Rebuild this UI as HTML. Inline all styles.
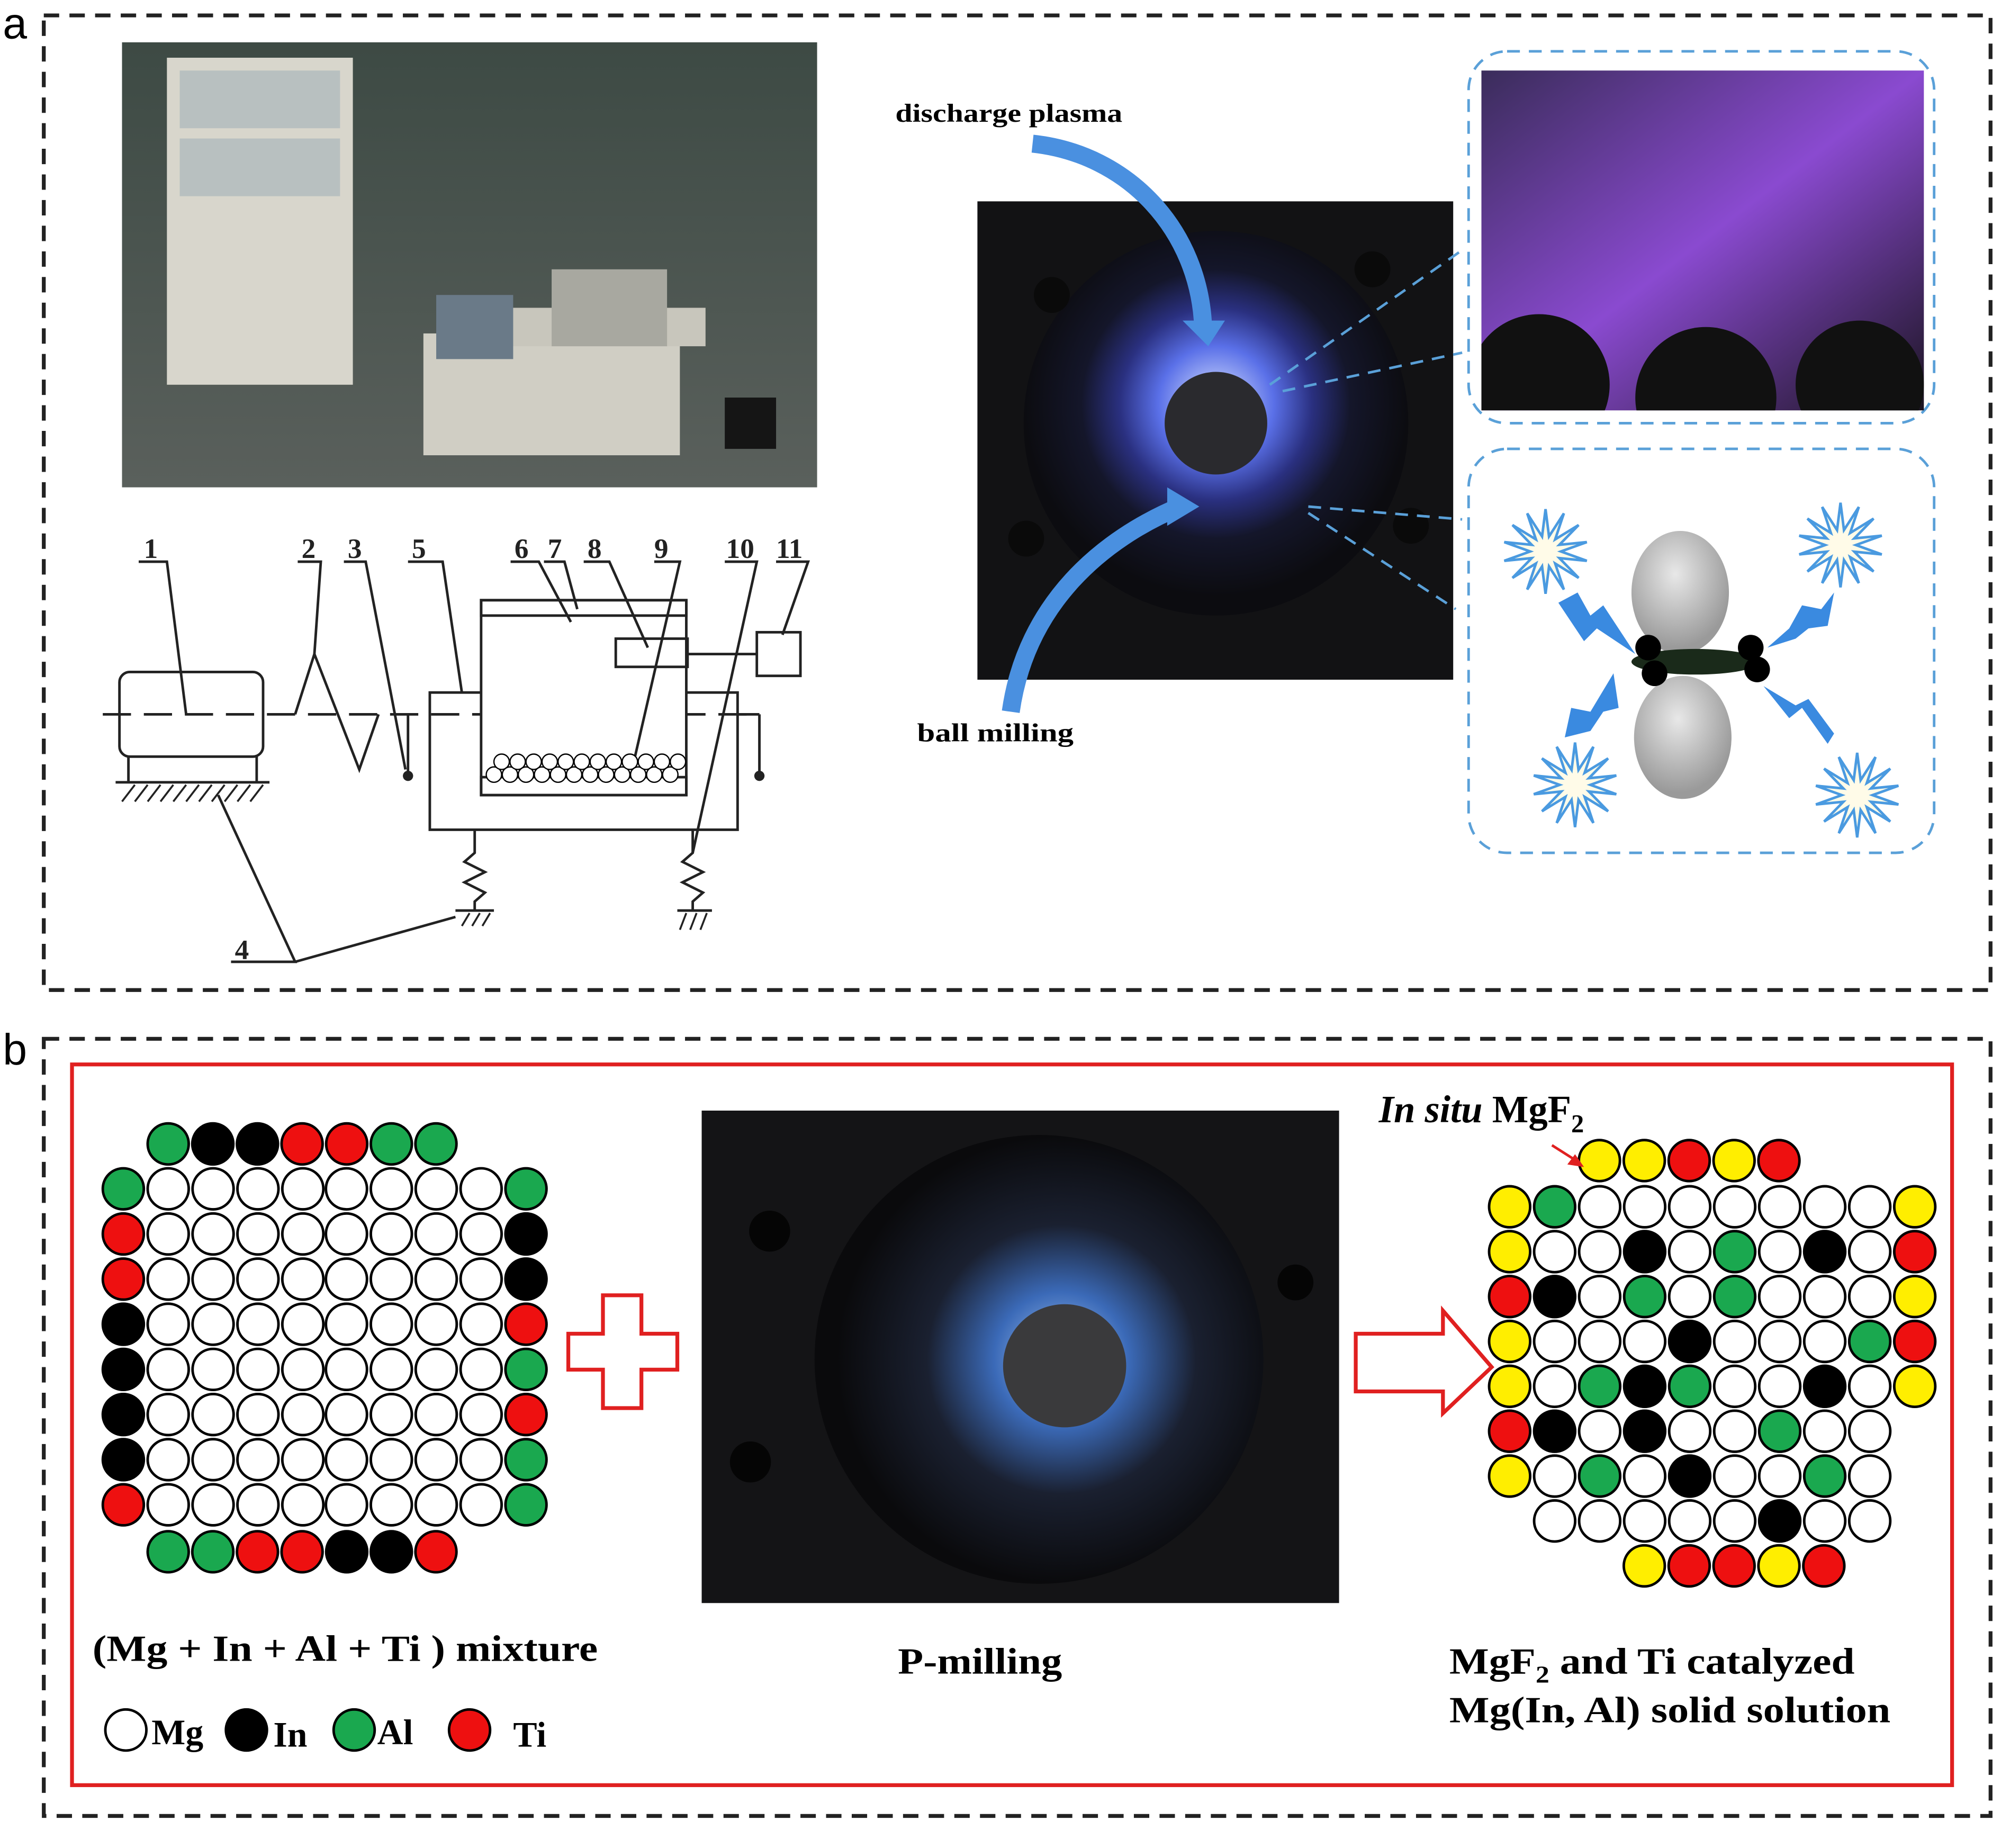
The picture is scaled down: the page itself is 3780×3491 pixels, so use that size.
<!DOCTYPE html>
<html><head><meta charset="utf-8"><style>
html,body{margin:0;padding:0;background:#fff}
svg{display:block}
text{font-family:"Liberation Serif",serif;font-weight:bold}
</style></head><body>
<svg id="s" width="3780" height="3491" viewBox="0 0 1560 1441" xmlns="http://www.w3.org/2000/svg">
<defs>
<radialGradient id="glow" cx="0.5" cy="0.45" r="0.5"><stop offset="0" stop-color="#dfe8ff"/><stop offset="0.3" stop-color="#5a70e8"/><stop offset="0.5" stop-color="#2a3080"/><stop offset="0.7" stop-color="#14162a"/><stop offset="1" stop-color="#0c0c10"/></radialGradient>
<radialGradient id="glow2" cx="0.55" cy="0.5" r="0.5"><stop offset="0" stop-color="#a8c8f0"/><stop offset="0.3" stop-color="#3b6ab8"/><stop offset="0.6" stop-color="#1a2030"/><stop offset="1" stop-color="#0a0a0c"/></radialGradient>
<linearGradient id="room" x1="0" y1="0" x2="0" y2="1"><stop offset="0" stop-color="#3d4a44"/><stop offset="1" stop-color="#5a605c"/></linearGradient>
<linearGradient id="purp" x1="0" y1="0" x2="1" y2="1"><stop offset="0" stop-color="#3a2c5a"/><stop offset="0.5" stop-color="#8a4ad0"/><stop offset="1" stop-color="#1a1420"/></linearGradient>
<radialGradient id="ball" cx="0.45" cy="0.35" r="0.6"><stop offset="0" stop-color="#e8e8e8"/><stop offset="1" stop-color="#9a9a9a"/></radialGradient>
<clipPath id="pc"><rect x="1155" y="55" width="345" height="265"/></clipPath>
</defs>
<!-- panel a -->
<text x="2" y="30" font-size="34" style="font-family:'Liberation Sans',sans-serif;font-weight:normal">a</text>
<rect x="34" y="12" width="1518" height="760" fill="none" stroke="#222" stroke-width="3" stroke-dasharray="12,8"/>
<rect x="95" y="33" width="542" height="347" fill="url(#room)"/>
<rect x="130" y="45" width="145" height="255" fill="#d8d6cc"/>
<rect x="140" y="55" width="125" height="45" fill="#b8c0c0"/><rect x="140" y="108" width="125" height="45" fill="#b8c0c0"/>
<rect x="330" y="260" width="200" height="95" fill="#d0cec4"/><rect x="370" y="240" width="180" height="30" fill="#c8c6bc"/>
<rect x="340" y="230" width="60" height="50" fill="#6a7a88"/><rect x="430" y="210" width="90" height="60" fill="#a8a8a0"/>
<rect x="565" y="310" width="40" height="40" fill="#151515"/>
<!-- discharge photo -->
<rect x="762" y="157" width="371" height="373" fill="#121214"/>
<circle cx="948" cy="330" r="150" fill="url(#glow)"/>
<circle cx="948" cy="330" r="40" fill="#2a2a2e"/>
<g fill="#0a0a0a"><circle cx="820" cy="230" r="14"/><circle cx="1070" cy="210" r="14"/><circle cx="1100" cy="410" r="14"/><circle cx="800" cy="420" r="14"/></g>
<path d="M805 112 C880 120 935 180 938 255" fill="none" stroke="#4a90e0" stroke-width="14"/>
<polygon points="922,250 955,250 942,270" fill="#4a90e0"/>
<path d="M788 555 C800 470 860 420 920 395" fill="none" stroke="#4a90e0" stroke-width="14"/>
<polygon points="910,380 935,395 910,410" fill="#4a90e0"/>
<text x="698" y="95" font-size="20" textLength="177" lengthAdjust="spacingAndGlyphs">discharge plasma</text>
<text x="715" y="578" font-size="20" textLength="122" lengthAdjust="spacingAndGlyphs">ball milling</text>
<rect x="1145" y="40" width="363" height="290" rx="30" fill="none" stroke="#5aa0d8" stroke-width="2" stroke-dasharray="10,7"/>
<rect x="1145" y="350" width="363" height="315" rx="30" fill="none" stroke="#5aa0d8" stroke-width="2" stroke-dasharray="10,7"/>
<rect x="1155" y="55" width="345" height="265" fill="url(#purp)"/>
<g fill="#111" clip-path="url(#pc)"><circle cx="1200" cy="300" r="55"/><circle cx="1330" cy="310" r="55"/><circle cx="1450" cy="300" r="50"/></g>
<g stroke="#5aa0d8" stroke-width="2" stroke-dasharray="10,7"><line x1="990" y1="300" x2="1140" y2="195"/><line x1="1000" y1="305" x2="1140" y2="275"/><line x1="1020" y1="395" x2="1140" y2="405"/><line x1="1020" y1="400" x2="1135" y2="475"/></g>
<ellipse cx="1310" cy="462" rx="38" ry="48" fill="url(#ball)"/><ellipse cx="1312" cy="575" rx="38" ry="48" fill="url(#ball)"/>
<ellipse cx="1322" cy="516" rx="50" ry="10" fill="#1a2a1a"/>
<circle cx="1285" cy="505" r="10" fill="#000"/><circle cx="1290" cy="525" r="10" fill="#000"/><circle cx="1365" cy="505" r="10" fill="#000"/><circle cx="1370" cy="522" r="10" fill="#000"/>
<g id="stars"></g>
<!-- schematic -->
<g fill="none" stroke="#222" stroke-width="2">
<rect x="93" y="524" width="112" height="66" rx="8"/>
<line x1="80" y1="557" x2="590" y2="557" stroke-dasharray="22,10"/>
<line x1="100" y1="590" x2="100" y2="610"/><line x1="200" y1="590" x2="200" y2="610"/>
<line x1="90" y1="610" x2="210" y2="610"/>
<polyline points="230,557 245,510 280,600 295,557"/>
<line x1="318" y1="557" x2="318" y2="605"/>
<rect x="335" y="540" width="240" height="107"/>
<rect x="375" y="468" width="160" height="152" fill="#fff"/>
<rect x="375" y="468" width="160" height="12"/><rect x="375" y="606" width="160" height="14"/>
<rect x="480" y="498" width="56" height="22"/><line x1="536" y1="510" x2="590" y2="510"/><rect x="590" y="493" width="34" height="34"/>
<line x1="575" y1="557" x2="592" y2="557"/><line x1="592" y1="557" x2="592" y2="605"/>
<polyline points="370,647 370,665 362,672 378,680 362,688 378,696 370,703 370,710"/>
<polyline points="540,647 540,665 532,672 548,680 532,688 548,696 540,703 540,710"/>
<line x1="355" y1="710" x2="385" y2="710"/><line x1="528" y1="710" x2="555" y2="710"/>
<polyline points="108,438 130,438 145,557"/><polyline points="232,438 250,438 245,510"/>
<polyline points="268,438 285,438 316,600"/><polyline points="318,438 345,438 360,540"/>
<polyline points="398,438 420,438 445,485"/><polyline points="424,438 440,438 450,475"/>
<polyline points="455,438 475,438 505,505"/><polyline points="510,438 530,438 495,590"/>
<polyline points="565,438 590,438 540,665"/><polyline points="605,438 630,438 610,495"/>
<polyline points="180,750 230,750 170,620"/><line x1="230" y1="750" x2="355" y2="715"/>
</g>
<g stroke="#222" stroke-width="1.5"><line x1="95" y1="625" x2="105" y2="612"/><line x1="105" y1="625" x2="115" y2="612"/><line x1="115" y1="625" x2="125" y2="612"/><line x1="125" y1="625" x2="135" y2="612"/><line x1="135" y1="625" x2="145" y2="612"/><line x1="145" y1="625" x2="155" y2="612"/><line x1="155" y1="625" x2="165" y2="612"/><line x1="165" y1="625" x2="175" y2="612"/><line x1="175" y1="625" x2="185" y2="612"/><line x1="185" y1="625" x2="195" y2="612"/><line x1="195" y1="625" x2="205" y2="612"/>
<line x1="360" y1="722" x2="366" y2="712"/><line x1="368" y1="722" x2="374" y2="712"/><line x1="376" y1="722" x2="382" y2="712"/>
<line x1="530" y1="725" x2="535" y2="712"/><line x1="538" y1="725" x2="543" y2="712"/><line x1="546" y1="725" x2="551" y2="712"/></g>
<g fill="#222" stroke="none"><circle cx="318" cy="605" r="4"/><circle cx="592" cy="605" r="4"/></g>
<g id="balls"></g>
<g font-size="22" style="font-family:'Liberation Sans',sans-serif;font-weight:normal" fill="#222">
<text x="112" y="435">1</text><text x="235" y="435">2</text><text x="271" y="435">3</text><text x="321" y="435">5</text><text x="401" y="435">6</text><text x="427" y="435">7</text><text x="458" y="435">8</text><text x="510" y="435">9</text><text x="566" y="435">10</text><text x="605" y="435">11</text><text x="183" y="748">4</text></g>
<!-- panel b -->
<text x="2" y="830" font-size="34" style="font-family:'Liberation Sans',sans-serif;font-weight:normal">b</text>
<rect x="34" y="810" width="1518" height="606" fill="none" stroke="#222" stroke-width="3" stroke-dasharray="12,8"/>
<rect x="56" y="830" width="1466" height="562" fill="none" stroke="#e02020" stroke-width="3"/>
<rect x="547" y="866" width="497" height="384" fill="#141416"/>
<circle cx="810" cy="1060" r="175" fill="url(#glow2)"/>
<circle cx="830" cy="1065" r="48" fill="#3a3a3c"/>
<g fill="#050505"><circle cx="600" cy="960" r="16"/><circle cx="585" cy="1140" r="16"/><circle cx="1010" cy="1000" r="14"/></g>
<polygon points="470,1010 500,1010 500,1040 528,1040 528,1068 500,1068 500,1098 470,1098 470,1068 443,1068 443,1040 470,1040" fill="none" stroke="#e02020" stroke-width="3"/>
<polygon points="1057,1040 1125,1040 1125,1022 1163,1066 1125,1102 1125,1085 1057,1085" fill="none" stroke="#e02020" stroke-width="3"/>
<g id="grid"></g>
<text x="1075" y="875" font-size="30"><tspan font-style="italic">In situ</tspan> MgF<tspan font-size="20" dy="8">2</tspan></text>
<line x1="1210" y1="893" x2="1232" y2="907" stroke="#e02020" stroke-width="2"/><polygon points="1235,910 1222,908 1228,900" fill="#e02020"/>
<text x="72" y="1295" font-size="29" textLength="394" lengthAdjust="spacingAndGlyphs">(Mg + In + Al + Ti ) mixture</text>
<text x="700" y="1305" font-size="29" textLength="128" lengthAdjust="spacingAndGlyphs">P-milling</text>
<text x="1130" y="1305" font-size="29" textLength="316" lengthAdjust="spacingAndGlyphs">MgF<tspan font-size="19" dy="7">2</tspan><tspan dy="-7"> and Ti catalyzed</tspan></text>
<text x="1130" y="1343" font-size="29" textLength="344" lengthAdjust="spacingAndGlyphs">Mg(In, Al) solid solution</text>
<g stroke="#000" stroke-width="2"><circle cx="98" cy="1349" r="16" fill="#fff"/><circle cx="192" cy="1349" r="16" fill="#000"/><circle cx="276" cy="1349" r="16" fill="#1aa84f"/><circle cx="366" cy="1349" r="16" fill="#ee1010"/></g>
<g font-size="28"><text x="118" y="1360">Mg</text><text x="213" y="1362">In</text><text x="294" y="1360">Al</text><text x="400" y="1362">Ti</text></g>
</svg>
<script>
var NS="http://www.w3.org/2000/svg";
function c(g,x,y,col,r){var e=document.createElementNS(NS,"circle");e.setAttribute("cx",x);e.setAttribute("cy",y);e.setAttribute("r",r||16);e.setAttribute("fill",col);e.setAttribute("stroke","#000");e.setAttribute("stroke-width",r?1:2);g.appendChild(e);}
var C={w:"#fff",k:"#000",g:"#1aa84f",r:"#ee1010",y:"#ffee00"};
var G=document.getElementById("grid");
var lx=[96,131,166,201,236,270,305,340,375,410];
"gkkrrgg".split("").forEach(function(t,i){c(G,131+i*34.8,892,C[t]);});
var L="grrkkkkr".split(""),R="gkkrgrgg".split("");
for(var j=0;j<8;j++){var y=927+j*35.2;for(var i=0;i<10;i++){var t=i==0?L[j]:(i==9?R[j]:"w");c(G,lx[i],y,C[t]);}}
"ggrrkkr".split("").forEach(function(t,i){c(G,131+i*34.8,1210,C[t]);});
var rx=[];for(var i=0;i<10;i++)rx.push(1177+i*35.1);
"yyryr".split("").forEach(function(t,i){c(G,1247+i*35,905,C[t]);});
var rows=["ygwwwwwwwy","ywwkwgwkwr","rkwgwgwwwy","ywwwkwwwgr","ywgkgwwkwy","rkwkwwgww-","ywgwkwwgw-","-wwwwwkww-"];
rows.forEach(function(s,j){for(var i=0;i<10;i++){if(s[i]!="-")c(G,rx[i],941+j*35,C[s[i]]);}});
"yrryr".split("").forEach(function(t,i){c(G,1282+i*35,1221,C[t]);});
var B=document.getElementById("balls");
for(var i=0;i<12;i++){c(B,385+i*12.5,604,"#fff",6);c(B,391+i*12.5,594,"#fff",6);}
var S=document.getElementById("stars");
function star(cx,cy,R1,R2,n){var p=[];for(var i=0;i<2*n;i++){var a=Math.PI*i/n,r=i%2?R2:R1;p.push((cx+r*Math.sin(a)).toFixed(1)+","+(cy-r*Math.cos(a)).toFixed(1));}var e=document.createElementNS(NS,"polygon");e.setAttribute("points",p.join(" "));e.setAttribute("fill","#fffbe8");e.setAttribute("stroke","#4a9ae0");e.setAttribute("stroke-width","2");S.appendChild(e);}
star(1205,430,33,12,14);star(1435,425,33,12,14);star(1228,612,33,12,14);star(1448,620,33,12,14);
function bolt(pts){var e=document.createElementNS(NS,"polygon");e.setAttribute("points",pts);e.setAttribute("fill","#3a8ae0");S.appendChild(e);}
bolt("1215,470 1230,462 1240,480 1250,472 1275,510 1245,490 1235,500");
bolt("1430,462 1420,475 1405,472 1395,490 1378,505 1400,498 1410,490 1425,488");
bolt("1258,525 1240,555 1225,552 1220,575 1240,570 1250,555 1262,552");
bolt("1375,535 1395,560 1405,552 1425,580 1430,572 1410,545 1400,550");
</script>
</body></html>
